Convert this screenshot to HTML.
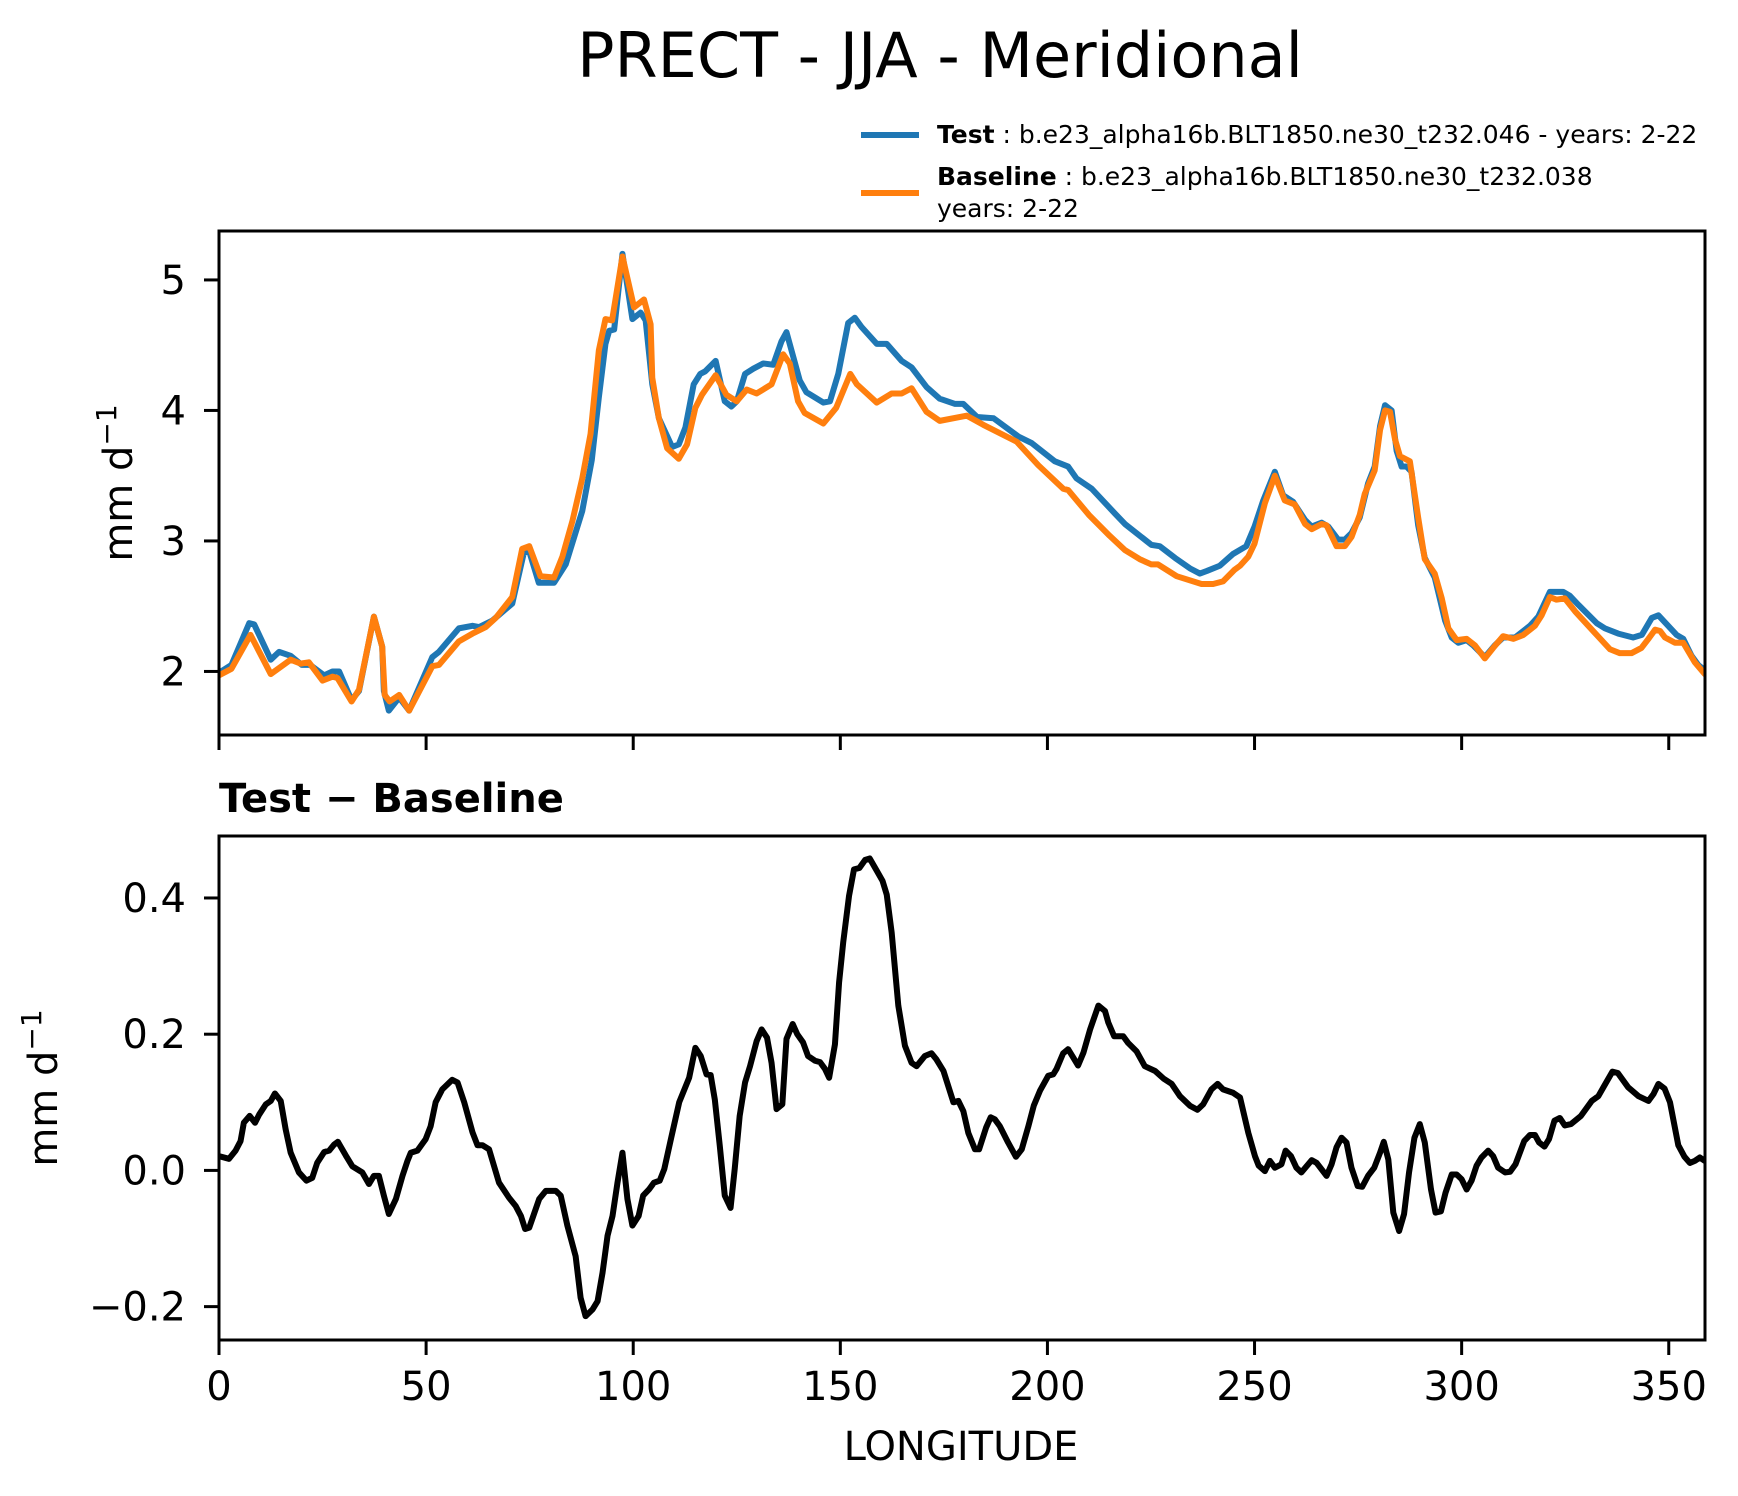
<!DOCTYPE html>
<html><head><meta charset="utf-8"><title>PRECT - JJA - Meridional</title>
<style>
html,body{margin:0;padding:0;background:#fff;}
svg{display:block;font-family:"DejaVu Sans","Liberation Sans",sans-serif;}
</style></head>
<body>
<svg id="chart" width="1738" height="1496" viewBox="0 0 1738 1496" xmlns="http://www.w3.org/2000/svg">
<rect x="0" y="0" width="1738" height="1496" fill="#fff"/>
<text x="940" y="77" font-size="62" text-anchor="middle" fill="#000">PRECT - JJA - Meridional</text>
<g>
  <line x1="861" y1="135" x2="919" y2="135" stroke="#1f77b4" stroke-width="6"/>
  <text x="937" y="143" font-size="25" fill="#000"><tspan font-weight="bold">Test</tspan> : b.e23_alpha16b.BLT1850.ne30_t232.046 - years: 2-22</text>
  <line x1="861" y1="193" x2="919" y2="193" stroke="#ff7f0e" stroke-width="6"/>
  <text x="937" y="185" font-size="25" fill="#000"><tspan font-weight="bold">Baseline</tspan> : b.e23_alpha16b.BLT1850.ne30_t232.038</text>
  <text x="937" y="217" font-size="25" fill="#000">years: 2-22</text>
</g>
<text transform="translate(132,483) rotate(-90)" font-size="40" text-anchor="middle" fill="#000">mm d<tspan font-size="28" dy="-16">−1</tspan></text>
<text transform="translate(57,1088) rotate(-90)" font-size="40" text-anchor="middle" fill="#000">mm d<tspan font-size="28" dy="-16">−1</tspan></text>
<text x="219" y="812" font-size="40" font-weight="bold" fill="#000">Test − Baseline</text>
<text x="961" y="1460" font-size="40" text-anchor="middle" fill="#000">LONGITUDE</text>
<g id="topPanel"></g>
<g id="botPanel"></g>
</svg>
<script>
const testLon = [0,3,7.3,8.5,12.5,14.5,17.3,20,22,25.4,27.4,29,32,33.8,37.4,39.4,39.8,41,43.5,45.9,51.5,53.1,57.9,61.2,62.8,66,70.8,73.6,74.9,77.2,80.9,83.7,87.7,90,91.7,93.3,94.2,95.4,97.4,99.8,101.8,103,104.6,106.2,109.4,111,112.6,114.6,116.2,117.4,119.9,122.1,123.7,125,127,129,131.4,133.8,135.8,137,140.2,141.8,145.9,147.5,149.5,151.9,153.5,155.1,158.8,161.2,164.8,167.2,170.8,174,177.7,179.7,183,187,193,196.2,201.8,205,207,210.7,216.3,218.7,225.1,227.1,230.8,234.4,236.8,238.5,241.6,244.8,248,250,252.1,254.9,256.9,259.3,262.2,263.8,266.2,267.8,270.2,271.8,273.4,275.4,277.4,279,280.3,281.5,283.1,284.3,285.5,286.7,287.9,289.5,291.1,293.5,296,297.6,299.2,301.2,302.8,305.6,308,310,312.9,316.5,318.5,321.3,324.5,326.1,328.2,332.6,334.6,337.8,341.4,343.5,345.9,347.5,351.9,353.5,355.5,357.1,358.7];
const testVals = [1.99,2.05,2.37,2.36,2.09,2.15,2.12,2.05,2.05,1.97,2.0,2.0,1.78,1.85,2.42,2.19,1.85,1.70,1.80,1.70,2.11,2.15,2.33,2.35,2.34,2.39,2.52,2.91,2.92,2.68,2.68,2.82,3.23,3.62,4.10,4.51,4.61,4.62,5.20,4.70,4.75,4.69,4.20,3.94,3.72,3.74,3.87,4.20,4.28,4.30,4.38,4.07,4.03,4.07,4.28,4.32,4.36,4.35,4.53,4.60,4.23,4.14,4.06,4.07,4.28,4.67,4.71,4.64,4.51,4.51,4.38,4.33,4.18,4.09,4.05,4.05,3.95,3.94,3.80,3.75,3.61,3.57,3.48,3.40,3.21,3.13,2.97,2.96,2.87,2.79,2.75,2.77,2.81,2.90,2.96,3.11,3.31,3.53,3.35,3.30,3.16,3.11,3.14,3.11,3.01,3.01,3.06,3.18,3.44,3.57,3.88,4.04,4.00,3.69,3.57,3.57,3.53,3.12,2.87,2.72,2.39,2.26,2.22,2.24,2.20,2.11,2.20,2.26,2.26,2.35,2.42,2.61,2.61,2.58,2.51,2.37,2.33,2.29,2.26,2.28,2.41,2.43,2.28,2.25,2.12,2.05,2.01];
const baseLon = [0,3,7.6,12.5,17.3,19.7,21.7,25,27.4,28.6,32,33.8,37.4,39.4,40,41.2,43.5,45.9,51.5,53.1,57.9,61.2,64.4,66.8,70.8,73.2,74.9,77.6,80.9,82.9,85.3,87.7,89.7,91.7,93.3,94.9,97.4,100.2,102.6,104.2,104.6,106.2,108.2,111,113,115,116.6,119.9,122.5,125,127.4,129.8,133.4,136.2,137.8,139.8,141.4,145.9,149,152.4,154,158.8,162.4,164.8,167.2,170.8,174,180.5,184.5,192.6,197.8,203.8,205,210,215,218.7,222.3,225.1,226.7,231.2,237.2,240,242.4,245.2,246.5,248.5,250,252.5,254.9,257.3,259.7,262.2,263.8,266.2,267.4,269.8,271.8,273.4,275.4,276.6,279,280.3,281.5,282.7,283.9,285.1,287.5,289.5,291.1,293.5,295.2,296.8,298.8,301.2,303.2,305.6,307.6,310,312.5,314.9,317.7,319.3,321.3,322.9,324.9,327.4,332.6,335.8,338.2,341,343.4,345.1,346.7,347.9,349.1,351.5,353.5,356.3,358.7];
const baseVals = [1.97,2.02,2.28,1.98,2.09,2.06,2.07,1.93,1.96,1.95,1.77,1.86,2.42,2.19,1.82,1.77,1.82,1.70,2.04,2.05,2.23,2.29,2.34,2.41,2.57,2.94,2.96,2.73,2.72,2.88,3.15,3.48,3.82,4.46,4.70,4.69,5.18,4.79,4.85,4.66,4.25,3.94,3.71,3.63,3.74,4.02,4.12,4.27,4.12,4.07,4.16,4.13,4.20,4.43,4.36,4.07,3.98,3.90,4.02,4.28,4.20,4.06,4.13,4.13,4.17,3.99,3.92,3.96,3.89,3.76,3.58,3.40,3.39,3.20,3.04,2.93,2.86,2.82,2.82,2.73,2.67,2.67,2.69,2.78,2.81,2.88,2.98,3.29,3.50,3.31,3.28,3.13,3.09,3.13,3.12,2.96,2.96,3.03,3.20,3.36,3.54,3.85,4.00,3.99,3.78,3.65,3.61,3.18,2.86,2.75,2.56,2.33,2.24,2.25,2.20,2.10,2.18,2.27,2.25,2.28,2.35,2.43,2.57,2.55,2.56,2.46,2.28,2.17,2.14,2.14,2.18,2.25,2.32,2.31,2.26,2.22,2.22,2.07,1.98];
const diffLon = [0,2.4,4,5.2,6,7.4,8.7,9.7,11.3,12.5,13.5,14.9,16.1,17.3,19.3,21.1,22.5,23.7,25.4,26.6,27.8,28.7,30.6,32.2,34.6,36.2,37.4,38.6,39.8,41,42.7,44.3,45.5,46.3,47.9,49.9,51.1,52.3,53.9,56.3,57.6,59.2,61.2,62.4,63.6,65.2,67.6,70,71.6,72.9,73.9,74.9,77.3,78.9,81.3,82.5,84.1,86.1,87.3,88.5,90.2,91.4,92.6,93.8,95,96.2,97.4,98.6,99.8,101.3,102.4,103.8,105,106.4,107.5,109.1,111.1,113.5,115,116.3,117.7,118.7,119.7,120.9,122.1,123.5,124.5,125.7,127,128.2,129.8,131,132.3,133.4,134.6,136,137,138.5,139.6,141,142.2,143.9,145.1,146.3,147.3,148.7,149.7,150.7,152.1,153.3,154.6,156,157.1,158.8,160.2,161.2,162.4,164,165.6,167.2,168.4,170.4,172,173.2,174.9,177.3,178.5,179.7,180.9,182.5,183.5,185.2,186.3,187.3,188.5,190.5,192.4,193.8,195.4,196.7,198.2,200.2,201.4,202.2,203.8,205,206.2,207.4,208.7,210.3,212.3,213.9,214.7,216.1,218.3,219.5,221.5,223.5,226,228,230,232,234.4,236.2,237.6,239.6,241.1,242.4,244.8,246.5,248.5,250.1,251,252.5,253.7,254.9,256.5,257.5,258.8,260.1,261.3,263.8,265,267.4,268.6,269.8,271,272.2,273.4,274.9,276,277.4,278.9,280.3,281.2,282.3,283.5,284.9,286.1,287.3,288.6,289.9,291.1,292.6,293.7,295,296.1,297.6,298.8,300,301.2,302.4,303.6,304.8,306.4,307.6,308.8,310.5,311.7,313,315.1,316.5,317.7,318.7,320,321.1,322.4,323.7,324.9,326.4,328.8,331.4,333,334.4,336.4,337.7,340.2,342.7,345.1,346.3,347.5,349,350.3,352.3,353.8,355.1,356.3,357.5,358.7];
const diffVals = [0.021,0.017,0.029,0.043,0.070,0.080,0.070,0.082,0.097,0.102,0.113,0.102,0.060,0.026,-0.003,-0.015,-0.011,0.011,0.027,0.029,0.038,0.042,0.022,0.006,-0.003,-0.020,-0.008,-0.008,-0.037,-0.064,-0.042,-0.008,0.014,0.026,0.029,0.046,0.065,0.100,0.119,0.133,0.129,0.100,0.056,0.037,0.037,0.031,-0.018,-0.040,-0.052,-0.067,-0.086,-0.084,-0.042,-0.030,-0.030,-0.037,-0.081,-0.126,-0.187,-0.214,-0.204,-0.192,-0.150,-0.096,-0.067,-0.018,0.026,-0.042,-0.081,-0.067,-0.037,-0.028,-0.018,-0.015,0.002,0.046,0.100,0.136,0.180,0.168,0.141,0.140,0.104,0.036,-0.037,-0.055,0.002,0.080,0.129,0.153,0.190,0.207,0.195,0.158,0.090,0.097,0.193,0.215,0.200,0.188,0.168,0.161,0.159,0.149,0.136,0.185,0.276,0.335,0.403,0.442,0.444,0.456,0.458,0.440,0.425,0.405,0.349,0.242,0.183,0.158,0.153,0.168,0.172,0.163,0.146,0.100,0.102,0.087,0.055,0.031,0.031,0.063,0.078,0.075,0.065,0.041,0.020,0.031,0.065,0.095,0.117,0.139,0.141,0.149,0.172,0.178,0.166,0.154,0.173,0.207,0.242,0.234,0.217,0.197,0.197,0.187,0.175,0.153,0.146,0.135,0.127,0.109,0.095,0.089,0.097,0.119,0.127,0.119,0.114,0.107,0.055,0.021,0.007,-0.001,0.014,0.004,0.009,0.029,0.021,0.004,-0.003,0.015,0.011,-0.008,0.009,0.034,0.048,0.041,0.004,-0.023,-0.024,-0.008,0.004,0.026,0.042,0.016,-0.062,-0.089,-0.064,-0.003,0.048,0.068,0.041,-0.028,-0.062,-0.060,-0.033,-0.006,-0.006,-0.013,-0.028,-0.015,0.007,0.019,0.029,0.021,0.004,-0.003,-0.002,0.009,0.043,0.052,0.052,0.041,0.035,0.046,0.073,0.077,0.066,0.068,0.080,0.102,0.109,0.124,0.145,0.143,0.122,0.109,0.102,0.112,0.127,0.120,0.100,0.037,0.020,0.011,0.014,0.019,0.014];
const xTicks = [0,50,100,150,200,250,300,350];
const xTickLabels = ["0","50","100","150","200","250","300","350"];
const topYTicks = [2,3,4,5];
const topYTickLabels = ["2","3","4","5"];
const botYTicks = [-0.2,0.0,0.2,0.4];
const botYTickLabels = ["\u22120.2","0.0","0.2","0.4"];

const NS = "http://www.w3.org/2000/svg";
const L = 219, R = 1705;
const X_MIN = 0, X_MAX = 358.75;
function xScale(v){ return L + (v - X_MIN) / (X_MAX - X_MIN) * (R - L); }
const topTop = 231, topBot = 735, topYMin = 1.513, topYMax = 5.375;
const botTop = 836, botBot = 1340, botYMin = -0.249, botYMax = 0.491;
function yTop(v){ return topBot - (v - topYMin) / (topYMax - topYMin) * (topBot - topTop); }
function yBot(v){ return botBot - (v - botYMin) / (botYMax - botYMin) * (botBot - botTop); }

function mk(tag, attrs, parent){
  const e = document.createElementNS(NS, tag);
  for (const k in attrs) e.setAttribute(k, attrs[k]);
  parent.appendChild(e);
  return e;
}
function linePath(xs, ys, yf){
  let d = "";
  for (let i = 0; i < xs.length; i++) d += (i ? "L" : "M") + xScale(xs[i]).toFixed(2) + "," + yf(ys[i]).toFixed(2);
  return d;
}

function drawPanel(g, top, bot, yf, yt, ytl, showXLabels, clipId){
  const defs = mk("defs", {}, g);
  const cp = mk("clipPath", {id: clipId}, defs);
  mk("rect", {x: L, y: top, width: R - L, height: bot - top}, cp);
  for (let i = 0; i < yt.length; i++){
    const y = yf(yt[i]);
    const t = mk("line", {x1: L - 15, x2: L, y1: y, y2: y, stroke: "#000", "stroke-width": 3}, g);
    
    
    const lb = mk("text", {x: L - 33, y: y + 14, "font-size": 40, "text-anchor": "end", fill: "#000"}, g);
    lb.textContent = ytl[i];
    
    
  }
  for (let i = 0; i < xTicks.length; i++){
    const x = xScale(xTicks[i]);
    const t = mk("line", {x1: x, x2: x, y1: bot, y2: bot + 15, stroke: "#000", "stroke-width": 3}, g);
    
    
    if (showXLabels){
      const lb = mk("text", {x: x, y: bot + 60, "font-size": 40, "text-anchor": "middle", fill: "#000"}, g);
      lb.textContent = xTickLabels[i];
      
      
    }
  }
  const series = mk("g", {"clip-path": "url(#" + clipId + ")"}, g);
  return series;
}

const topG = document.getElementById("topPanel");
const topSeries = drawPanel(topG, topTop, topBot, yTop, topYTicks, topYTickLabels, false, "clipTop");
const pTest = mk("path", {d: linePath(testLon, testVals, yTop), fill: "none", stroke: "#1f77b4", "stroke-width": 6, "stroke-linejoin": "round", "stroke-linecap": "round"}, topSeries);


const pBase = mk("path", {d: linePath(baseLon, baseVals, yTop), fill: "none", stroke: "#ff7f0e", "stroke-width": 6, "stroke-linejoin": "round", "stroke-linecap": "round"}, topSeries);


const frameTop = mk("rect", {x: L, y: topTop, width: R - L, height: topBot - topTop, fill: "none", stroke: "#000", "stroke-width": 3}, topG);



const botG = document.getElementById("botPanel");
const botSeries = drawPanel(botG, botTop, botBot, yBot, botYTicks, botYTickLabels, true, "clipBot");
const pDiff = mk("path", {d: linePath(diffLon, diffVals, yBot), fill: "none", stroke: "#000", "stroke-width": 6, "stroke-linejoin": "round", "stroke-linecap": "round"}, botSeries);


const frameBot = mk("rect", {x: L, y: botTop, width: R - L, height: botBot - botTop, fill: "none", stroke: "#000", "stroke-width": 3}, botG);


</script>
</body></html>
